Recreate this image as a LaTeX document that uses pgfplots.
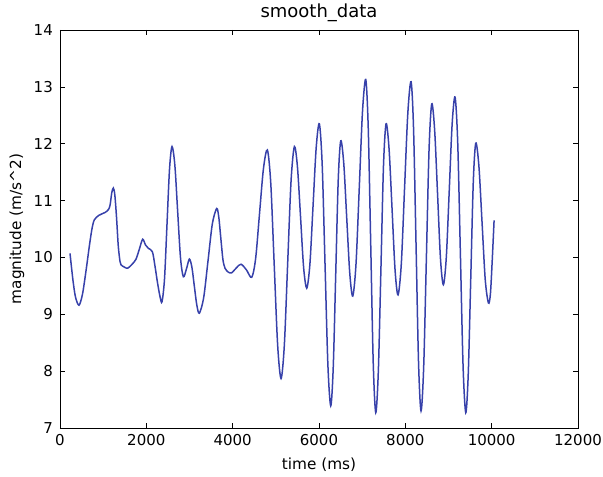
\documentclass[border=0pt]{standalone}
\usepackage{pgfplots}
\pgfplotsset{compat=1.18}
\usepackage{fontspec}
\setmainfont{DejaVu Sans}
\definecolor{lineblue}{RGB}{55,65,170}
\begin{document}
\fontsize{15}{18}\selectfont
\begin{tikzpicture}
\begin{axis}[
  scale only axis, width=518pt, height=398pt,
  xmin=0, xmax=12000, ymin=7, ymax=14,
  xtick={0,2000,4000,6000,8000,10000,12000},
  ytick={7,8,9,10,11,12,13,14},
  scaled x ticks=false,
  tick align=inside, major tick length=5pt,
  xtick pos=both, ytick pos=both,
  axis line style={line width=0.8pt},
  tick style={line width=0.7pt, black},
  /pgf/number format/assume math mode=true,
  /pgf/number format/1000 sep={},
  tick label style={font=\fontsize{15}{18}\selectfont},
  xticklabel style={anchor=base, inner sep=0pt, yshift=-18pt},
  yticklabel style={anchor=east, inner sep=0pt, xshift=-7pt},
  title={smooth\_data},
  title style={at={(axis description cs:0.5,1)}, anchor=base, yshift=6pt, font=\fontsize{18}{21}\selectfont},
  xlabel={time (ms)},
  xlabel style={at={(axis description cs:0.5,0)}, anchor=base, yshift=-42pt, font=\fontsize{15.3}{18}\selectfont},
  ylabel={magnitude (m/s\textasciicircum 2)},
  ylabel style={at={(axis description cs:0,0.5)}, anchor=center, yshift=43pt, font=\fontsize{15.3}{18}\selectfont},
]
\addplot[lineblue, line width=1.5pt, smooth, tension=0.5] coordinates {
(232,10.07) (300,9.6) (360,9.3) (440,9.16)
(520,9.35) (600,9.75) (680,10.2) (740,10.5) (795,10.66)
(900,10.74) (1043,10.79) (1120,10.84) (1160,10.92) (1200,11.14) (1236,11.22)
(1270,11.1) (1310,10.7) (1350,10.2) (1390,9.93) (1413,9.87)
(1490,9.83) (1568,9.81) (1670,9.88) (1761,9.97) (1840,10.15) (1915,10.32)
(1980,10.22) (2047,10.16) (2140,10.10)
(2200,9.85) (2260,9.55) (2320,9.3) (2363,9.22)
(2421,9.62) (2479,10.585) (2537,11.55) (2595,11.95)
(2661,11.62) (2726,10.805) (2792,9.99) (2858,9.66)
(2930,9.8) (2997,9.97)
(3055,9.83) (3112,9.495) (3170,9.16) (3228,9.02)
(3328,9.29) (3429,9.94) (3529,10.59) (3630,10.86)
(3678,10.71) (3726,10.335) (3775,9.96) (3823,9.81)
(3900,9.74) (3977,9.73) (4090,9.82) (4194,9.88) (4320,9.78) (4441,9.65)
(4532,9.98) (4622,10.77) (4713,11.56) (4804,11.89)
(4883,11.30) (4962,9.88) (5042,8.46) (5121,7.87)
(5198,8.47) (5275,9.91) (5353,11.35) (5430,11.95)
(5501,11.59) (5573,10.705) (5644,9.82) (5716,9.46)
(5789,9.88) (5862,10.905) (5935,11.93) (6008,12.35)
(6074,11.63) (6140,9.87) (6206,8.11) (6272,7.39)
(6330,8.07) (6388,9.72) (6446,11.37) (6504,12.05)
(6574,11.65) (6643,10.685) (6713,9.72) (6782,9.32)
(6857,9.88) (6933,11.225) (7008,12.57) (7083,13.13)
(7141,12.27) (7199,10.2) (7257,8.13) (7315,7.27)
(7375,8.01) (7435,9.81) (7494,11.61) (7554,12.35)
(7623,11.91) (7693,10.845) (7762,9.78) (7831,9.34)
(7907,9.89) (7982,11.215) (8058,12.54) (8133,13.09)
(8191,12.25) (8249,10.195) (8306,8.15) (8364,7.30)
(8426,8.09) (8488,10.0) (8550,11.91) (8612,12.70)
(8679,12.24) (8747,11.11) (8814,9.98) (8881,9.52)
(8949,10.0) (9017,11.17) (9084,12.34) (9152,12.82)
(9214,12.01) (9276,10.045) (9338,8.08) (9400,7.27)
(9458,7.96) (9516,9.64) (9574,11.32) (9632,12.01)
(9705,11.60) (9778,10.605) (9851,9.61) (9924,9.20)
(9970,9.35) (10010,9.9) (10056,10.65)
};
\end{axis}
\pgfresetboundingbox
\path ([shift={(-60pt,-49pt)}]current axis.south west) rectangle ([shift={(25pt,30pt)}]current axis.north east);
\end{tikzpicture}
\end{document}
